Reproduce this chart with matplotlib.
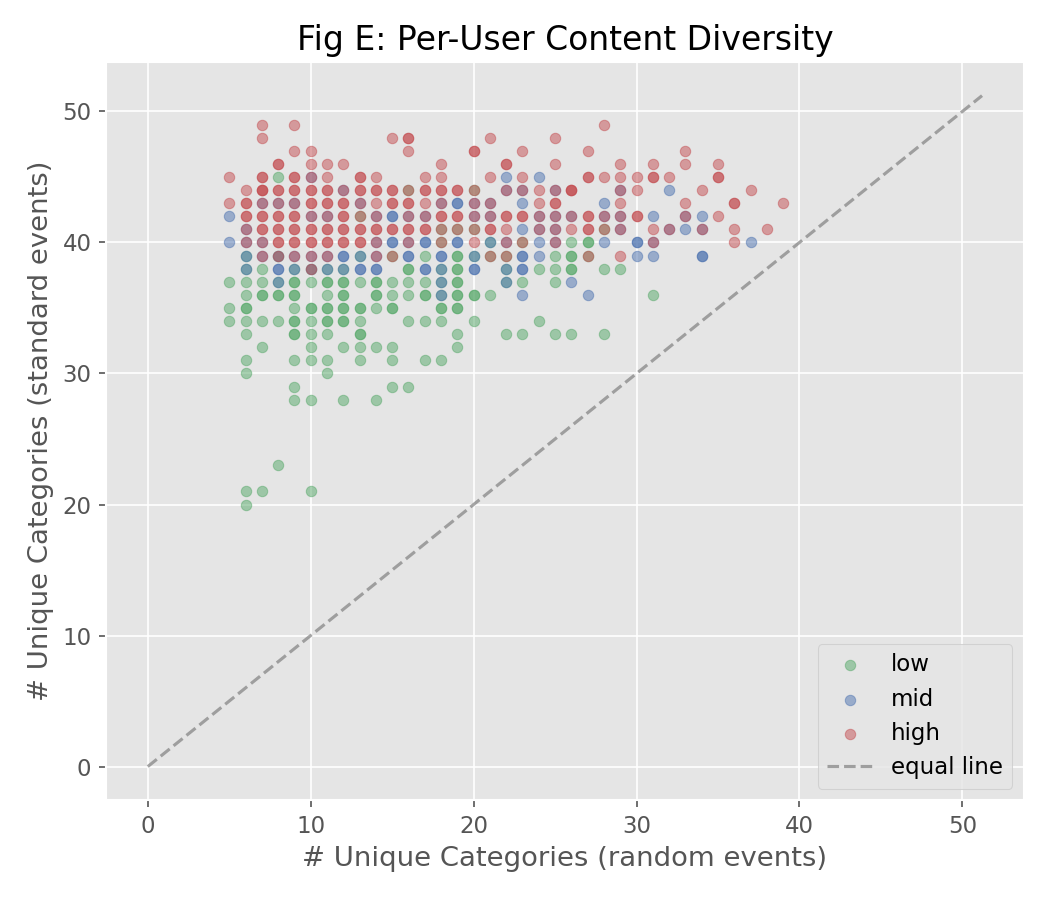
import matplotlib
matplotlib.use("Agg")
import matplotlib.pyplot as plt

# (random-event categories, standard-event categories) per user
low_pts = [
    (8, 45),
    (16, 44), (20, 44),
    (13, 42),
    (18, 41), (19, 41), (20, 41), (28, 41),
    (18, 40), (21, 40), (23, 40), (26, 40), (27, 40), (27, 40),
    (6, 39), (8, 39), (13, 39), (15, 39), (17, 39), (19, 39), (19, 39), (20, 39), (21, 39),
    (22, 39), (25, 39), (26, 39), (26, 39), (27, 39),
    (6, 38), (7, 38), (9, 38), (10, 38), (11, 38), (12, 38), (16, 38), (16, 38), (18, 38),
    (19, 38), (19, 38), (22, 38), (24, 38), (25, 38), (26, 38), (26, 38), (28, 38), (29, 38),
    (5, 37), (6, 37), (7, 37), (8, 37), (9, 37), (9, 37), (10, 37), (11, 37), (11, 37),
    (12, 37), (12, 37), (13, 37), (14, 37), (14, 37), (15, 37), (16, 37), (17, 37), (18, 37),
    (19, 37), (19, 37), (22, 37), (23, 37), (25, 37),
    (6, 36), (7, 36), (7, 36), (8, 36), (8, 36), (9, 36), (9, 36), (11, 36), (12, 36),
    (12, 36), (14, 36), (14, 36), (15, 36), (16, 36), (17, 36), (17, 36), (18, 36), (19, 36),
    (19, 36), (20, 36), (20, 36), (21, 36), (31, 36),
    (5, 35), (6, 35), (6, 35), (9, 35), (10, 35), (10, 35), (11, 35), (11, 35), (12, 35),
    (12, 35), (13, 35), (13, 35), (14, 35), (15, 35), (15, 35), (18, 35), (18, 35), (19, 35),
    (19, 35),
    (5, 34), (6, 34), (7, 34), (8, 34), (9, 34), (9, 34), (10, 34), (11, 34), (11, 34),
    (12, 34), (12, 34), (13, 34), (16, 34), (17, 34), (18, 34), (20, 34), (24, 34),
    (6, 33), (9, 33), (9, 33), (10, 33), (11, 33), (13, 33), (13, 33), (19, 33), (22, 33),
    (23, 33), (25, 33), (26, 33), (28, 33),
    (7, 32), (10, 32), (12, 32), (13, 32), (14, 32), (15, 32), (19, 32),
    (6, 31), (9, 31), (10, 31), (11, 31), (13, 31), (15, 31), (17, 31), (18, 31),
    (6, 30), (11, 30),
    (9, 29), (15, 29), (16, 29),
    (9, 28), (10, 28), (12, 28), (14, 28),
    (8, 23),
    (6, 21), (7, 21), (10, 21),
    (6, 20),
]

mid_pts = [
    (10, 45), (22, 45), (24, 45),
    (12, 44), (22, 44), (23, 44), (25, 44), (29, 44), (32, 44),
    (7, 43), (8, 43), (9, 43), (13, 43), (18, 43), (19, 43), (19, 43), (20, 43), (21, 43),
    (23, 43), (28, 43),
    (5, 42), (10, 42), (11, 42), (14, 42), (15, 42), (15, 42), (16, 42), (17, 42), (20, 42),
    (21, 42), (24, 42), (25, 42), (26, 42), (28, 42), (29, 42), (31, 42), (33, 42), (34, 42),
    (6, 41), (23, 41), (24, 41), (25, 41), (29, 41), (32, 41), (33, 41), (34, 41),
    (5, 40), (6, 40), (7, 40), (14, 40), (15, 40), (15, 40), (16, 40), (17, 40), (17, 40),
    (19, 40), (19, 40), (21, 40), (22, 40), (24, 40), (25, 40), (28, 40), (30, 40), (30, 40),
    (31, 40), (37, 40),
    (6, 39), (7, 39), (8, 39), (9, 39), (10, 39), (11, 39), (12, 39), (12, 39), (13, 39),
    (14, 39), (16, 39), (16, 39), (18, 39), (18, 39), (20, 39), (23, 39), (23, 39), (24, 39),
    (30, 39), (31, 39), (34, 39), (34, 39),
    (6, 38), (8, 38), (8, 38), (9, 38), (10, 38), (11, 38), (12, 38), (13, 38), (13, 38),
    (14, 38), (14, 38), (17, 38), (17, 38), (18, 38), (20, 38), (20, 38), (22, 38), (23, 38),
    (23, 38),
    (8, 37), (18, 37), (22, 37), (26, 37),
    (18, 36), (23, 36), (27, 36),
]

high_pts = [
    (7, 49), (9, 49), (28, 49),
    (7, 48), (15, 48), (16, 48), (16, 48), (21, 48), (25, 48),
    (9, 47), (10, 47), (16, 47), (20, 47), (20, 47), (23, 47), (27, 47), (33, 47),
    (8, 46), (8, 46), (10, 46), (11, 46), (12, 46), (18, 46), (22, 46), (22, 46), (25, 46),
    (29, 46), (31, 46), (33, 46), (35, 46),
    (5, 45), (7, 45), (7, 45), (9, 45), (9, 45), (10, 45), (11, 45), (13, 45), (13, 45),
    (14, 45), (17, 45), (18, 45), (21, 45), (23, 45), (27, 45), (27, 45), (28, 45), (29, 45),
    (30, 45), (31, 45), (31, 45), (32, 45), (35, 45), (35, 45),
    (6, 44), (7, 44), (7, 44), (7, 44), (8, 44), (8, 44), (9, 44), (9, 44), (10, 44),
    (10, 44), (11, 44), (11, 44), (12, 44), (13, 44), (13, 44), (14, 44), (14, 44), (15, 44),
    (15, 44), (16, 44), (17, 44), (17, 44), (18, 44), (18, 44), (19, 44), (19, 44), (20, 44),
    (22, 44), (23, 44), (24, 44), (25, 44), (26, 44), (26, 44), (26, 44), (29, 44), (30, 44),
    (34, 44), (37, 44),
    (5, 43), (6, 43), (6, 43), (7, 43), (8, 43), (9, 43), (10, 43), (10, 43), (11, 43),
    (11, 43), (12, 43), (12, 43), (13, 43), (14, 43), (15, 43), (15, 43), (16, 43), (16, 43),
    (17, 43), (18, 43), (20, 43), (21, 43), (24, 43), (25, 43), (25, 43), (29, 43), (33, 43),
    (36, 43), (36, 43), (39, 43),
    (6, 42), (6, 42), (7, 42), (7, 42), (8, 42), (8, 42), (9, 42), (9, 42), (10, 42),
    (11, 42), (12, 42), (12, 42), (13, 42), (14, 42), (16, 42), (17, 42), (18, 42), (18, 42),
    (19, 42), (19, 42), (20, 42), (21, 42), (22, 42), (22, 42), (23, 42), (23, 42), (24, 42),
    (25, 42), (26, 42), (27, 42), (27, 42), (28, 42), (29, 42), (30, 42), (30, 42), (33, 42),
    (35, 42),
    (6, 41), (7, 41), (7, 41), (8, 41), (8, 41), (9, 41), (9, 41), (10, 41), (10, 41),
    (11, 41), (11, 41), (12, 41), (12, 41), (13, 41), (13, 41), (14, 41), (14, 41), (15, 41),
    (15, 41), (16, 41), (16, 41), (17, 41), (17, 41), (18, 41), (19, 41), (20, 41), (21, 41),
    (21, 41), (22, 41), (24, 41), (25, 41), (26, 41), (27, 41), (27, 41), (28, 41), (29, 41),
    (31, 41), (32, 41), (34, 41), (36, 41), (38, 41),
    (6, 40), (7, 40), (8, 40), (8, 40), (9, 40), (9, 40), (10, 40), (10, 40), (11, 40),
    (11, 40), (12, 40), (12, 40), (13, 40), (13, 40), (14, 40), (16, 40), (18, 40), (20, 40),
    (22, 40), (23, 40), (25, 40), (31, 40), (36, 40),
    (7, 39), (8, 39), (9, 39), (10, 39), (11, 39), (14, 39), (15, 39), (21, 39), (22, 39),
    (27, 39), (29, 39),
    (10, 38),
]

groups = ["low", "mid", "high"]
group_pts = [low_pts, mid_pts, high_pts]
colors = ["#55A868", "#4C72B0", "#C44E52"]

plt.style.use("ggplot")
plt.rcParams["font.size"] = 11
fig, ax = plt.subplots(figsize=(7, 6), dpi=150)

for name, pts, col in zip(groups, group_pts, colors):
    xs = [p[0] for p in pts]
    ys = [p[1] for p in pts]
    ax.scatter(xs, ys, s=25, color=col, alpha=0.5, label=name)

all_vals = [v for pts in group_pts for p in pts for v in p]
lim = max(all_vals) * 1.045
ax.plot([0, lim], [0, lim], ls="--", color="gray", alpha=0.7, lw=1.5, label="equal line")

ax.set_title("Fig E: Per-User Content Diversity")
ax.set_xlabel("# Unique Categories (random events)")
ax.set_ylabel("# Unique Categories (standard events)")
ax.legend(loc="lower right")

plt.subplots_adjust(left=0.101, right=0.975, top=0.931, bottom=0.111)
plt.savefig("out.png")
